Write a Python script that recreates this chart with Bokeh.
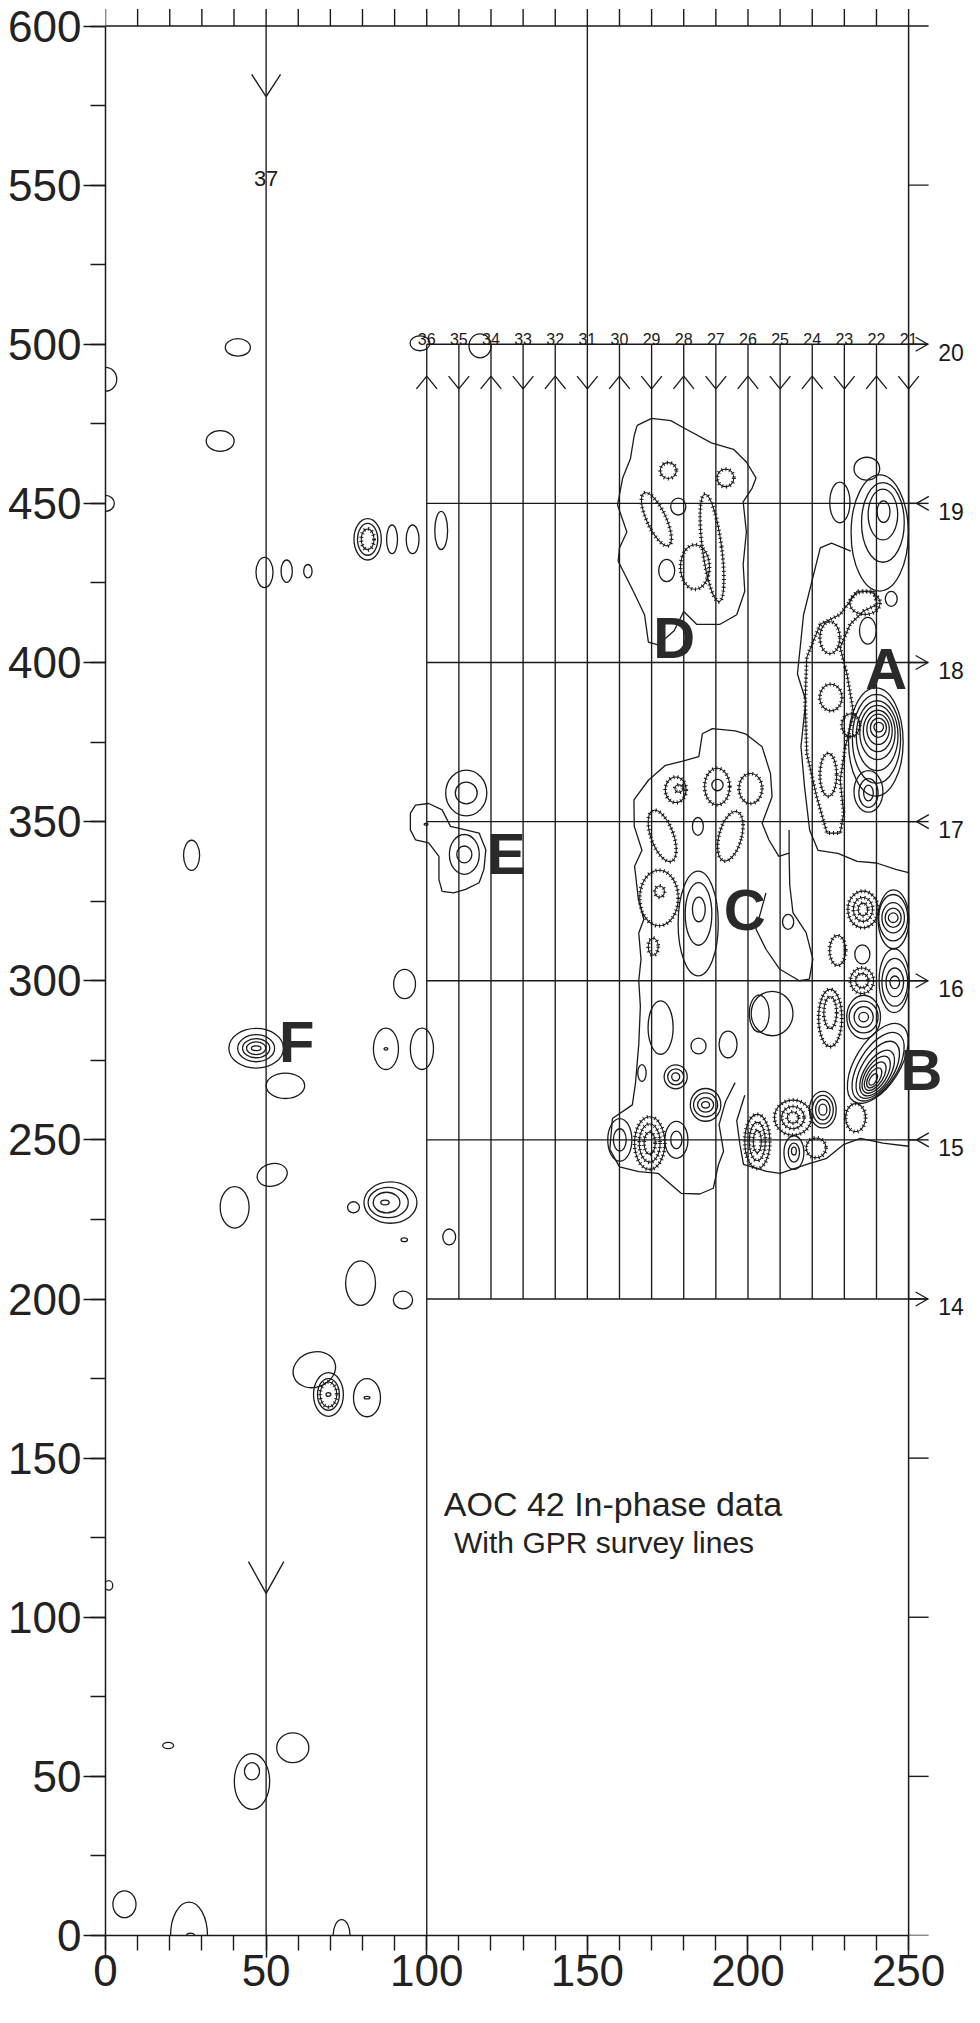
import math
from bokeh.plotting import figure
from bokeh.models import Range1d, LinearAxis, SingleIntervalTicker, ColumnDataSource
from bokeh.core.properties import value
from bokeh.embed import file_html
from bokeh.resources import INLINE

INK = "#1a1a1a"
FONT = "Liberation Sans"

# ---------------- map extent & ticks ----------------
x_min, x_max = 0, 250
y_min, y_max = 0, 600
top_tick_values = list(range(0, 251, 10))
right_tick_values = list(range(0, 601, 50))

# ---------------- survey lines ----------------
gpr_line_no = [36, 35, 34, 33, 32, 31, 30, 29, 28, 27, 26, 25, 24, 23, 22, 21]
gpr_line_x = [100, 110, 120, 130, 140, 150, 160, 170, 180, 190, 200, 210, 220, 230, 240, 250]
gpr_line_bottom = [0, 200, 200, 200, 200, 200, 200, 200, 200, 200, 200, 200, 200, 200, 200, 200]
gpr_line_top = [500, 500, 500, 500, 500, 600, 500, 500, 500, 500, 500, 500, 500, 500, 500, 500]
gpr_line_dir = ["up", "down"] * 8

cross_no = [20, 19, 18, 17, 16, 15, 14]
cross_y = [500, 450, 400, 350, 300, 250, 200]
cross_dir = ["right", "left", "right", "left", "right", "left", "right"]

line37_x = 50
line37_arrow_tips = [577.8, 107.5]

# ---------------- contour rings (x, y, width, height, angle_deg) ----------------
rings_west = [
    (41.2, 499, 7.8, 5.5, 0), (35.7, 469.6, 8.7, 6.5, 0), (0, 489, 7, 7.5, 0), (0, 450, 5.5, 5, 0),
    (49.5, 428.3, 5.3, 9.5, 0), (56.4, 428.7, 3.5, 7, 0), (63, 428.7, 2.6, 4.2, 0),
    (81.6, 438.7, 8.5, 13, 0), (81.6, 438.7, 6.3, 10, 0), (89.2, 438.7, 3.4, 9, 0),
    (95.6, 438.7, 4, 9, 0), (104.5, 441.5, 4, 12, 0), (26.8, 339.4, 5, 9.5, 0),
]
rings_E = [(112.3, 359, 12.8, 14.4, 0), (112.3, 359, 6.8, 6.8, 0),
           (111.7, 339.7, 9.3, 12.5, 0), (111.7, 339.7, 4.7, 5.3, 0), (99.8, 349.2, 1.2, 0.6, 0)]
rings_F = [(46.9, 278.8, 17, 12.5, 0), (46.9, 278.8, 11.5, 8.5, 0), (46.9, 278.8, 8.5, 6, 0),
           (46.9, 278.8, 6, 4, 0), (46.9, 278.8, 3, 1.5, 0), (56, 267, 12, 8, 0),
           (93.1, 299, 6.8, 9.2, 0), (87.3, 278.6, 7.8, 13, 0), (87.3, 278.6, 1.2, 0.8, 0),
           (98.5, 278.6, 7.2, 13, 0)]
rings_south_west = [
    (51.9, 239, 9.5, 7, 15), (40.2, 228.8, 9, 13, 0),
    (88.7, 230.3, 16.5, 13, 0), (88, 230.3, 12.5, 9.5, 0), (87.5, 230.3, 8.3, 6.5, 0), (87, 230.3, 2.6, 1.5, 0),
    (77.2, 228.8, 3.7, 3.5, 0), (93, 218.6, 2, 1.2, 0), (107, 219.5, 4, 5, 0),
    (79.4, 205, 9.3, 14, 0), (92.6, 199.7, 6, 5.6, 0),
    (65, 177.8, 13.5, 11, 20), (69.4, 170, 9.3, 13.7, 0), (69.4, 170, 6.8, 10, 0), (69.4, 170, 1.5, 1.2, 0),
    (81.4, 169, 8.4, 12, 0), (81.4, 169, 1.8, 0.8, 0),
    (1, 110, 2.5, 3, 0), (19.5, 59.7, 3.4, 2, 0), (45.6, 48.4, 11, 17.5, 0), (45.6, 51.6, 4.7, 5.4, 0),
    (58.3, 59, 10, 9.4, 0), (5.9, 9.8, 7.2, 8.4, 0), (26, 0, 11.5, 21, 0), (26.5, 0, 2.5, 1.5, 0),
    (73.5, 0, 5.3, 10, 0),
]
rings_grid_solid = [
    (97.9, 500.3, 6.2, 4.7, 0), (116.6, 499.5, 6.9, 7.5, 0),
    (178.3, 449, 4.7, 5.3, 0), (174.7, 428.9, 5, 7, 0),
    (237, 460.9, 8, 7.2, 0), (228.6, 450.3, 6.3, 12.8, 0), (242.2, 447.4, 4, 6.8, 0),
    (242, 446.5, 9.2, 16, 0), (242, 444, 13.3, 25, 0), (241, 440.7, 17.8, 36.5, 0),
    (237.3, 410, 5.2, 8.4, 0), (244.6, 420, 3.7, 4.7, 0),
    (240.7, 379.7, 3, 3, 0), (240.6, 379.5, 5, 6, 0), (240.5, 379, 7, 9.5, 0), (240.4, 378.5, 9, 13, 0),
    (240.3, 378, 11, 17, 0), (240.2, 377, 13, 22, 0), (240, 376, 15, 28, 0), (239.8, 375, 17, 34, 0),
    (237.5, 359, 3, 5, 0), (237.5, 359, 6, 9, 0), (237.5, 359.5, 9, 13, 0),
    (190.5, 361.5, 3.5, 3.6, 0), (184.4, 348.5, 3.4, 5.6, 0), (184.7, 322.4, 4, 7.8, 0),
    (184.6, 321, 8.3, 19.7, 0), (184.5, 318, 12.5, 33, 0), (212.5, 318.5, 3.5, 4.7, 0),
    (245.2, 319.8, 3, 3, 0), (245.2, 319.8, 5, 6, 0), (245.2, 319.8, 7, 9.5, 0), (245.2, 319.8, 9, 14.6, 0),
    (245.3, 319.3, 9.6, 18.5, 0),
    (235.6, 308.3, 4.7, 6, 0), (245.7, 299.5, 3, 4, 0), (245.7, 299.5, 5.5, 9, 0), (245.7, 299.5, 8, 15, 0),
    (245.5, 300, 9.4, 20, 0),
    (236, 288.6, 3, 3, 0), (236, 288.6, 6, 6.5, 0), (236, 288.6, 9, 10, 0), (236, 288.6, 10.5, 13.7, 0),
    (239, 269, 4, 2, 58), (239.3, 269.5, 7, 3.5, 58), (239.6, 270, 10, 5, 58), (239.9, 270.5, 13, 6.5, 58),
    (240.2, 271, 16, 8, 58), (240.4, 272, 20, 10, 58), (240.5, 273, 24, 12, 58), (240.4, 274, 28, 14, 58),
    (223.3, 259.5, 2.5, 3.5, 0), (223.3, 259.5, 4.5, 6.5, 0), (223.3, 259.5, 6.5, 9, 0), (223.3, 259.5, 8.3, 11.5, 0),
    (214.3, 246, 6.2, 10.6, 0), (214.3, 246, 3.5, 6, 0), (214.3, 246.5, 1.5, 2.5, 0),
    (160.1, 250, 7.5, 13.4, 0), (160.1, 250, 4, 7, 0), (177.7, 250, 7.2, 11.6, 0), (177.7, 250, 3.5, 5.5, 0),
    (186.8, 261, 2.5, 2, 0), (186.8, 261, 5, 4.5, 0), (186.8, 261, 7.5, 7.5, 0), (186.8, 261, 9.5, 10.3, 0),
    (177.5, 269.8, 2.5, 2.5, 0), (177.5, 269.8, 5, 5, 0), (177.5, 269.8, 7.2, 7.5, 0),
    (184.6, 279.5, 4.7, 5, 0), (193.8, 280, 5.6, 8.4, 0), (203.5, 289.7, 6.2, 11.6, 0),
    (207.5, 289.7, 13, 14, 0), (172.8, 285.3, 7.8, 16.8, 0), (167, 271, 2.6, 5.3, 0),
]
rings_hachured = [
    (81.6, 438.7, 4, 6.5, 0), (69.4, 170, 5.2, 7.8, 0),
    (175.2, 460.3, 5, 5, 0), (193, 458, 5.2, 5.5, 0), (171.5, 445, 18, 6, -65),
    (188.8, 436, 6, 34, 7.5), (183.5, 430, 9, 14, 0),
    (225.8, 389, 6.9, 8.4, 0), (232, 380.3, 5.6, 7.2, 0), (225, 364.7, 5.2, 13.5, 0),
    (225.5, 407.8, 6.2, 10, 0), (236.4, 418.7, 9.4, 7.2, 0),
    (177.5, 360, 6.5, 8, 0), (178.5, 360.4, 2.5, 2.3, 0), (173.3, 345.5, 7, 17, 20),
    (190.4, 361, 7.8, 11.5, 0), (200.8, 360.4, 7.2, 9.4, 0), (194.5, 345.4, 7, 16, -15),
    (172.3, 326, 12, 17.5, 0), (172.5, 328, 3, 3.5, 0), (170.5, 310.7, 3.1, 5.3, 0),
    (235.8, 322.4, 3, 4, 0), (235.8, 322.4, 6, 7.5, 0), (235.8, 322.4, 9.4, 11.5, 0),
    (227.9, 309.5, 5, 9.4, 0), (235.5, 300, 7.2, 8, 0), (235.5, 300, 4, 4.5, 0),
    (225.6, 288.3, 7.2, 18, 0), (225.6, 290, 4, 10, 0), (233.5, 257, 6.2, 8.8, 0),
    (214, 257, 11.5, 11, 0), (214, 257, 7, 7, 0), (214, 257, 3.5, 3.5, 0),
    (202.9, 249.5, 7.8, 17, 0), (202.9, 249.5, 5, 12, 0), (202.9, 249.5, 2.5, 7, 0),
    (221.2, 247.5, 6.2, 6.2, 0), (169.4, 249, 9.4, 16.6, 0), (169.4, 249, 6.5, 12, 0), (169.4, 249, 3.5, 7, 0),
]

# ---------------- irregular contour outlines ----------------
D_outer_x = [165.5, 170, 176, 179.5, 188.6, 195.5, 199.5, 202.5, 201.3, 198.5, 199.5, 198.5, 199, 196.5,
             191.3, 184, 180, 177, 172, 169, 167.8, 164.3, 159.6, 160, 162.3, 159.4, 161, 163.4, 164.6, 165.5]
D_outer_y = [474.5, 476.7, 476, 474, 469, 467, 463, 458, 454.8, 450.5, 441, 430.8, 422.4, 415,
             412, 412, 416, 410, 405.5, 406.4, 415, 422.4, 431.8, 436, 441, 449.5, 458, 464, 471.4, 474.5]
E_outer_x = [94.9, 96.5, 100.6, 104.8, 107.4, 112.1, 116.3, 118.4, 117.8, 116.3, 112.1, 108.4, 104.8,
             103.8, 103.8, 100.6, 96.5, 94.9, 94.9]
E_outer_y = [352.6, 355.2, 355.7, 353.7, 348.5, 347.4, 346.4, 341.2, 335, 330.8, 328.7, 327.6, 328.1,
             331.8, 339.1, 343.3, 344.3, 347.4, 352.6]
A_edge_x = [232, 226, 222.5, 217.3, 215.4, 218, 216.5, 217.6, 219.2, 221.8, 228, 234, 240, 246, 250]
A_edge_y = [435, 437.5, 436, 415, 396.4, 388, 373.6, 361, 347.3, 341, 340, 337.5, 337, 335, 334]
C_edge_x = [212.8, 212.8, 209.6, 206.5, 204.4, 207.5, 207, 204.4, 199.2, 196, 188.9, 185.8, 184.7, 179.4,
            174.3, 169, 164.5, 164.6, 167, 164.7, 165.9, 167.6, 166, 166.7, 166, 166.5, 166, 165, 164,
            157.8, 157, 160, 166, 172, 176, 179.2, 185, 189.2, 190.8, 192.4, 191, 193, 196]
C_edge_y = [347.4, 340.1, 339.1, 344.3, 349.5, 357.8, 365.1, 373.5, 377.6, 378.5, 379.2, 377.6, 370.4, 368.9,
            367.7, 363, 356.8, 348.5, 341, 336, 325.5, 319.3, 315, 306.8, 300, 292, 280, 268, 261,
            256.7, 247, 241.5, 240, 239.5, 236, 233.2, 233, 234.8, 242.2, 246.4, 254.8, 262, 268]
C_tail_x = [212.8, 213, 214, 218.1, 220.2, 219.1, 216, 209.8, 205.6, 202.5, 205.6]
C_tail_y = [340.1, 330, 321.4, 315.1, 306.8, 300.5, 300, 303.7, 309.9, 316.2, 327.6]
BL_edge_x = [199, 196.5, 197.5, 198.6, 205.8, 210, 218.3, 224.5, 229.7, 235, 242, 250]
BL_edge_y = [264, 256, 248.5, 242.3, 240.1, 239.5, 242.3, 244.2, 248.5, 250.5, 249, 248]
A_hach_x = [222.5, 218.3, 217.8, 218.3, 221.4, 224.6, 228.7, 229.8, 228.7, 230.3, 232.9, 230.8, 228.7,
            231.8, 236, 240.2, 239.1, 233.9, 231.8, 228.7, 222.5]
A_hach_y = [412, 401.6, 388, 371.4, 357.8, 346.4, 346.4, 352.6, 363, 373.5, 383.9, 396.4, 404.7,
            412, 416.2, 418.2, 422.4, 422.4, 419.3, 415.1, 412]

# ---------------- anomaly letters & texts ----------------
letter_text = ["A", "B", "C", "D", "E", "F"]
letter_x = [243, 254, 199, 177, 124.8, 59.5]
letter_y = [398, 272, 322.5, 408, 340, 281]

title_lines = ["AOC 42 In-phase data", "With GPR survey lines"]

# ======================================================================
TOP_PAD = 25.5                      # px between canvas top and y = 600
PX_X = 3.212                        # px per x unit
PX_Y = (1935 - TOP_PAD) / 600.0     # px per y unit
X_HI = 267.4
Y_HI = 600 + TOP_PAD / PX_Y

p = figure(frame_width=int(round(X_HI * PX_X)), frame_height=1935,
           x_range=Range1d(x_min, X_HI), y_range=Range1d(y_min, Y_HI),
           output_backend="svg", toolbar_location=None, x_axis_location=None, y_axis_location=None,
           min_border_left=105, min_border_top=0, min_border_right=0, min_border_bottom=72)
p.grid.visible = False
p.outline_line_color = None
p.background_fill_color = "white"
p.border_fill_color = "white"


def make_axis(interval, minor, out, minor_out, standoff, bounds):
    ax = LinearAxis(ticker=SingleIntervalTicker(interval=interval, num_minor_ticks=minor), bounds=bounds)
    ax.axis_line_color = INK
    ax.axis_line_width = 1.5
    ax.major_tick_line_color = INK
    ax.major_tick_line_width = 1.5
    ax.major_tick_in = 0
    ax.major_tick_out = out
    ax.minor_tick_line_color = INK
    ax.minor_tick_line_width = 1.4
    ax.minor_tick_in = 0
    ax.minor_tick_out = minor_out
    ax.major_label_text_font = FONT
    ax.major_label_text_font_size = "44px"
    ax.major_label_text_color = "#222222"
    ax.major_label_standoff = standoff
    return ax


p.add_layout(make_axis(50, 5, 22, 15, -3, (x_min, x_max)), "below")
p.add_layout(make_axis(50, 2, 22, 15, 2, (y_min, y_max)), "left")

# frame: right and top edges + their outward ticks
TOP_T = 17 / PX_Y
RIGHT_T = 20 / PX_X
p.segment(x0=[x_max, x_min], y0=[y_min, y_max], x1=[x_max, x_max], y1=[y_max, y_max],
          line_color=INK, line_width=1.5)
p.segment(x0=top_tick_values, y0=[y_max] * len(top_tick_values), x1=top_tick_values,
          y1=[y_max + TOP_T] * len(top_tick_values), line_color=INK, line_width=1.4)
p.segment(x0=[x_max] * len(right_tick_values), y0=right_tick_values,
          x1=[x_max + RIGHT_T] * len(right_tick_values), y1=right_tick_values,
          line_color=INK, line_width=1.4)

# ---- survey lines ----
LW = 1.35
p.segment(x0=gpr_line_x, y0=gpr_line_bottom, x1=gpr_line_x, y1=gpr_line_top, line_color=INK, line_width=LW)
p.segment(x0=[line37_x], y0=[y_min], x1=[line37_x], y1=[y_max], line_color=INK, line_width=LW)

R_END, L_TIP = 256.0, 252.5
p.segment(x0=[100] * len(cross_y), y0=cross_y,
          x1=[R_END if d == "right" else L_TIP for d in cross_dir], y1=cross_y,
          line_color=INK, line_width=LW)

# arrowheads
ax0, ay0, ax1, ay1 = [], [], [], []
HW, HH = 3.2, 4.0
for x, d in zip(gpr_line_x, gpr_line_dir):
    tip = 490 if d == "up" else 486
    base = tip - HH if d == "up" else tip + HH
    for s in (-1, 1):
        ax0.append(x + s * HW); ay0.append(base); ax1.append(x); ay1.append(tip)
for tip, hw, hh in zip(line37_arrow_tips, [4.5, 5.5], [7.0, 10.0]):
    for s in (-1, 1):
        ax0.append(line37_x + s * hw); ay0.append(tip + hh); ax1.append(line37_x); ay1.append(tip)
AL, AW = 3.8, 2.2
for y, d in zip(cross_y, cross_dir):
    tip = R_END if d == "right" else L_TIP
    back = tip - AL if d == "right" else tip + AL
    for s in (-1, 1):
        ax0.append(back); ay0.append(y + s * AW); ax1.append(tip); ay1.append(y)
p.segment(x0=ax0, y0=ay0, x1=ax1, y1=ay1, line_color=INK, line_width=LW)


# ---- contours ----
def ring_source(rings):
    return ColumnDataSource(dict(x=[r[0] for r in rings], y=[r[1] for r in rings],
                                 w=[r[2] for r in rings], h=[r[3] for r in rings],
                                 a=[math.radians(r[4]) for r in rings]))


CW = 1.3
solid = rings_west + rings_E + rings_F + rings_south_west + rings_grid_solid
p.ellipse("x", "y", width="w", height="h", angle="a", source=ring_source(solid),
          fill_color=None, line_color=INK, line_width=CW)
hs = ring_source(rings_hachured)
p.ellipse("x", "y", width="w", height="h", angle="a", source=hs,
          fill_color=None, line_color=INK, line_width=1.1)
p.ellipse("x", "y", width="w", height="h", angle="a", source=hs,
          fill_color=None, line_color=INK, line_width=4, line_dash="1 3")

p.multi_line(xs=[D_outer_x, E_outer_x, A_edge_x, C_edge_x, C_tail_x, BL_edge_x],
             ys=[D_outer_y, E_outer_y, A_edge_y, C_edge_y, C_tail_y, BL_edge_y],
             line_color=INK, line_width=CW)
p.line(A_hach_x, A_hach_y, line_color=INK, line_width=1.1)
p.line(A_hach_x, A_hach_y, line_color=INK, line_width=4, line_dash="1 3")

# ---- texts ----
p.text(x=gpr_line_x, y=[501.5] * len(gpr_line_x), text=[str(n) for n in gpr_line_no],
       text_align="center", text_baseline="alphabetic", text_font=value(FONT),
       text_font_size="16px", text_color=INK)
p.text(x=[line37_x], y=[552], text=["37"], text_align="center", text_baseline="middle",
       text_font=value(FONT), text_font_size="22px", text_color=INK)
p.text(x=[259.2] * len(cross_y), y=[c - 2.5 for c in cross_y], text=[str(n) for n in cross_no],
       text_align="left", text_baseline="middle", text_font=value(FONT),
       text_font_size="23px", text_color=INK)
p.text(x=letter_x, y=letter_y, text=letter_text, text_align="center", text_baseline="middle",
       text_font=value(FONT), text_font_style="bold", text_font_size="58px", text_color="#2a2a2a")
p.text(x=[105.3], y=[135.5], text=[title_lines[0]], text_align="left", text_baseline="alphabetic",
       text_font=value(FONT), text_font_size="34px", text_color="#222222")
p.text(x=[108.5], y=[123.5], text=[title_lines[1]], text_align="left", text_baseline="alphabetic",
       text_font=value(FONT), text_font_size="30px", text_color="#222222")

open("out.html", "w").write(file_html(p, INLINE))
